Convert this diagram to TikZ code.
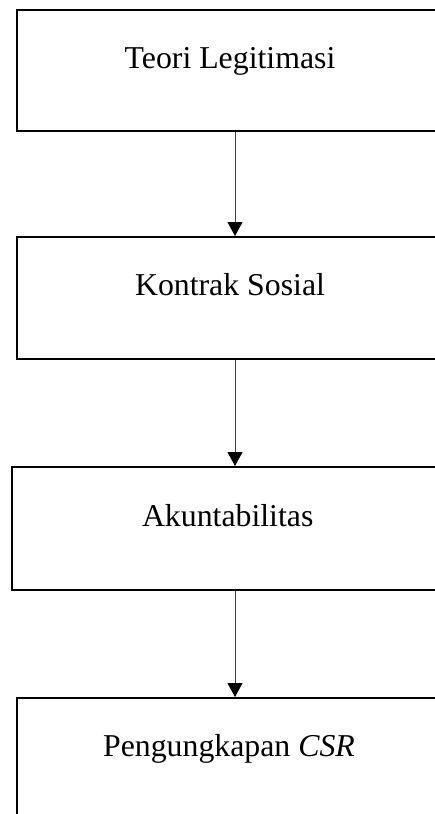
\documentclass[tikz,border=0pt]{standalone}
\usepackage{fontspec}
\setmainfont{Liberation Serif}
\usetikzlibrary{arrows.meta}
\begin{document}
\begin{tikzpicture}[x=1pt,y=1pt,
  boxstyle/.style={draw=black,line width=2pt,fill=none},
  lbl/.style={anchor=base,inner sep=0pt,font=\fontsize{31.8}{38}\selectfont},
  conn/.style={draw=black!75,line width=1pt,-{Triangle[width=15pt,length=14pt,fill=black,color=black]}}]
\useasboundingbox (0,0) rectangle (435,-814);
\clip (0,0) rectangle (435,-814);
\fill[white] (0,0) rectangle (435,-814);
% boxes
\node[boxstyle,inner sep=0pt,minimum width=424pt,minimum height=121pt,anchor=north west] (b1) at (16,-9) {};
\node[boxstyle,inner sep=0pt,minimum width=424pt,minimum height=122pt,anchor=north west] (b2) at (16,-236) {};
\node[boxstyle,inner sep=0pt,minimum width=429pt,minimum height=123pt,anchor=north west] (b3) at (11,-466) {};
\node[boxstyle,inner sep=0pt,minimum width=424pt,minimum height=140pt,anchor=north west] (b4) at (16,-697) {};
% labels
\node[lbl] (t1) at (230,-68.3) {Teori Legitimasi};
\node[lbl] (t2) at (230,-295.5) {Kontrak Sosial};
\node[lbl] (t3) at (227.7,-526.7) {Akuntabilitas};
\node[lbl] (t4) at (229,-756.5) {Pengungkapan \textit{CSR}};
% arrow axis
\coordinate (ax) at (235,0);
\draw[conn] (b1.south -| ax) -- (b2.north -| ax);
\draw[conn] (b2.south -| ax) -- (b3.north -| ax);
\draw[conn] (b3.south -| ax) -- (b4.north -| ax);
\end{tikzpicture}
\end{document}
